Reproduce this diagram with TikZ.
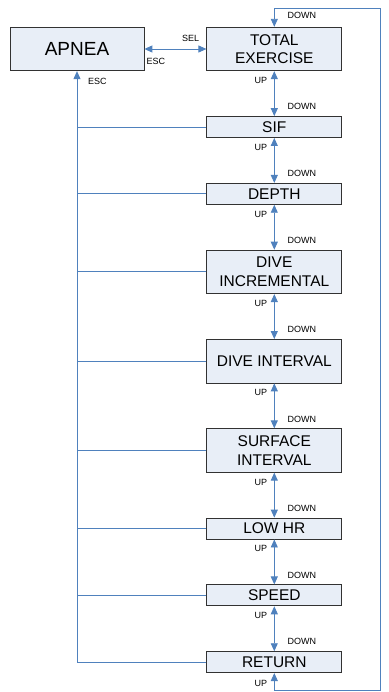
\documentclass[tikz,border=0pt]{standalone}
\usepackage{fontspec}
\setmainfont{Liberation Sans}
\usetikzlibrary{arrows.meta,positioning}
\definecolor{apfill}{RGB}{232,238,247}
\definecolor{apline}{RGB}{79,129,189}
\definecolor{apborder}{RGB}{50,50,50}
\tikzset{
  menubox/.style={draw=apborder,fill=apfill,line width=0.8pt,minimum width=135pt,
    align=center,inner sep=1pt,font=\fontsize{15.5}{18.5}\selectfont},
  flow/.style={draw=apline,line width=0.9pt},
  >={Triangle[length=8pt,width=7pt]},
  keylbl/.style={inner sep=0pt,font=\fontsize{9}{10}\selectfont}
}
\begin{document}
\begin{tikzpicture}[x=1pt,y=-1pt]
  \useasboundingbox (0,0) rectangle (388,692);
  \node[menubox,minimum width=134pt,minimum height=43.5pt,font=\fontsize{19}{22}\selectfont] (apnea) at (77,49) {APNEA};
  \node[menubox,minimum height=43.5pt,right=62pt of apnea] (te) {TOTAL\\EXERCISE};
  \draw[flow,<->] (apnea.east) -- (te.west);
  \node[keylbl,anchor=south east] (sel) at ([xshift=-7pt,yshift=7pt]te.west) {SEL};
  \node[keylbl,anchor=north west] (esc1) at ([xshift=2pt,yshift=-9pt]apnea.east) {ESC};
  \node[keylbl,anchor=north west] (esc2) at ([xshift=11pt,yshift=-7pt]apnea.south) {ESC};
  % menu chain
  \foreach \prev/\cur/\h/\txt in {te/sif/21/SIF, sif/depth/21/DEPTH,
      depth/dinc/43.5/{DIVE\\INCREMENTAL}, dinc/dint/43.5/{DIVE INTERVAL},
      dint/surf/43.5/{SURFACE\\INTERVAL}, surf/lowhr/21/{LOW HR},
      lowhr/speed/21/SPEED, speed/ret/21/RETURN}{
    \node[menubox,minimum height=\h pt,below=45pt of \prev] (\cur) {\txt};
    \draw[flow,<->] (\prev.south) -- (\cur.north);
    \node[keylbl,anchor=north east] (up-\cur) at ([xshift=-7pt,yshift=-6pt]\prev.south) {UP};
    \node[keylbl,anchor=south west] (dn-\cur) at ([xshift=13pt,yshift=6pt]\cur.north) {DOWN};
    \draw[flow] (\cur.west) -- (\cur.west -| apnea.south);
  }
  \draw[flow,->] (ret.west -| apnea.south) -- (apnea.south);
  % wrap around from RETURN to TOTAL EXERCISE
  \coordinate (loopbr) at (380,690);
  \coordinate (looptr) at (380,8);
  \draw[flow,<->] (ret.south) |- (loopbr) -- (looptr) -| (te.north);
  \node[keylbl,anchor=north east] (up-loop) at ([xshift=-7pt,yshift=-7pt]ret.south) {UP};
  \node[keylbl,anchor=south west] (dn-loop) at ([xshift=13pt,yshift=8pt]te.north) {DOWN};
\end{tikzpicture}
\end{document}
